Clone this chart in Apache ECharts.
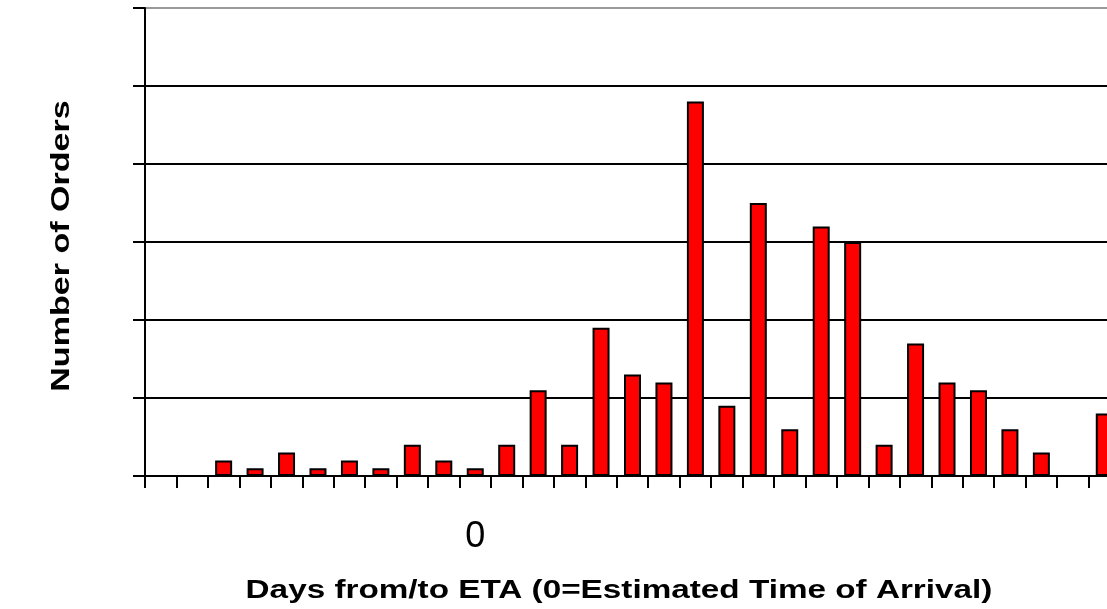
<!DOCTYPE html>
<html>
<head>
<meta charset="utf-8">
<script src="https://cdn.jsdelivr.net/npm/echarts@6/dist/echarts.min.js"></script>
<style>
html,body{margin:0;padding:0;background:#fff;overflow:hidden;width:1107px;height:609px;}
#chart{width:1120px;height:609px;}
</style>
</head>
<body>
<div id="chart"></div>
<script>
// Days from/to ETA (category axis)
const categories = [-10,-9,-8,-7,-6,-5,-4,-3,-2,-1,0,1,2,3,4,5,6,7,8,9,10,11,12,13,14,15,16,17,18,19,20];
// Number of orders per day
const orders = [0,0,2,1,3,1,2,1,4,2,1,4,11,4,19,13,12,48,9,35,6,32,30,4,17,12,11,6,3,0,8];
// Tick labels that are shown on the x axis
const shownTickLabels = ['0'];
const xTitle = 'Days from/to ETA (0=Estimated Time of Arrival)';
const yTitle = 'Number of Orders';

const FONT = '"Liberation Sans", Arial, sans-serif';
const chart = echarts.init(document.getElementById('chart'));
chart.setOption({
  animation: false,
  backgroundColor: '#fff',
  grid: { left: 145, top: 8, bottom: 133, right: 0, containLabel: false },
  xAxis: {
    type: 'category',
    data: categories.map(String),
    boundaryGap: true,
    axisLine: { show: true, lineStyle: { color: '#000', width: 2 } },
    axisTick: { show: true, interval: 0, length: 12, lineStyle: { color: '#000', width: 2 } },
    axisLabel: {
      interval: 0,
      margin: 43,
      fontSize: 36,
      fontFamily: FONT,
      color: '#000',
      formatter: v => shownTickLabels.includes(v) ? v : ''
    },
    splitLine: { show: false }
  },
  yAxis: {
    type: 'value',
    min: 0, max: 60, interval: 10,
    axisLine: { show: true, lineStyle: { color: '#000', width: 2 } },
    axisTick: { show: true, length: 12, lineStyle: { color: '#000', width: 2 } },
    axisLabel: { show: false },
    splitLine: { show: true, lineStyle: { color: ['#000','#000','#000','#000','#000','#000','#999'], width: 2 } }
  },
  series: [{
    type: 'bar',
    data: orders,
    barWidth: 17,
    itemStyle: { color: '#ff0000', borderColor: '#000', borderWidth: 2 }
  }],
  graphic: [
    {
      type: 'text', x: 619, y: 591, scaleX: 1.28,
      style: { text: xTitle, font: 'bold 26px ' + FONT, fill: '#000',
               align: 'center', verticalAlign: 'middle', textAlign: 'center', textVerticalAlign: 'middle' }
    },
    {
      type: 'text', x: 62, y: 246, rotation: Math.PI / 2, scaleX: 1.31,
      style: { text: yTitle, font: 'bold 26px ' + FONT, fill: '#000',
               align: 'center', verticalAlign: 'middle', textAlign: 'center', textVerticalAlign: 'middle' }
    }
  ]
});
</script>
</body>
</html>
